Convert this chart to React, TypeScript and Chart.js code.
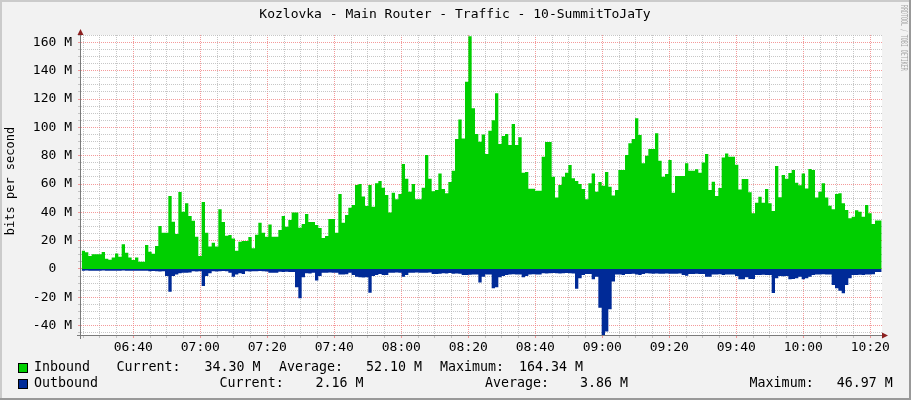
import React, { useEffect, useRef } from "react";
import { Chart, registerables } from "chart.js";
Chart.register(...registerables);

const TITLE = "Kozlovka - Main Router - Traffic - 10-SummitToJaTy";
const Y_TITLE = "bits per second";
const WATERMARK = "RRDTOOL / TOBI OETIKER";

// time axis in minutes after 06:00
const START_MINUTE = 24.59;
const STEP_MINUTES = 0.995;
const X_MIN = 24.39;
const X_MAX = 263.49;
const Y_MIN = -46.6;
const Y_MAX = 165.2;

// Mbit/s
const inbound = [
  13.4, 12.9, 11.8, 9.2, 10.4, 10.4, 10.4, 12, 7.3, 6.6,
  8.2, 11, 8.7, 17.4, 11.5, 8.2, 6.4, 8.2, 5.2, 5.2,
  17, 12.2, 10.8, 16.2, 30.4, 25.6, 25.6, 51.5, 33.4, 24.7,
  54.4, 40.5, 46.4, 37.4, 34.1, 22.8, 9.2, 47.3, 25.6, 15.8,
  18.6, 15.8, 42.1, 33.2, 23.5, 24, 21.6, 12.9, 19.3, 19.8,
  19.8, 22.6, 14.6, 24.2, 32.7, 25.6, 22.8, 31.5, 22.8, 22.8,
  27.5,
  37.4, 29.9, 34.6, 39.8, 39.8, 29.2, 31.8, 38.8, 33.2, 33.2,
  31.1, 28.9, 21.9, 23.3, 35.3, 35.3, 25.6, 52.9, 32.7, 38.1,
  43.3, 45.2, 59.3, 60, 51.1, 44.5, 59.3, 44, 60.5, 62.1,
  57.4, 52.2, 39.8, 53.9, 49.2, 52.9, 74.1, 63.8, 54.6, 60,
  49.2, 49.2, 57.4, 80.5, 63.8, 54.8, 55.8, 67.5, 56.5, 53.4,
  61.4, 69.4, 91.8, 105.6, 92.2, 132.2, 164.34, 113.4, 95.3, 89.9,
  95, 81.2, 97.6, 105, 124, 88.2, 93.9, 95.3, 87.5, 102.4,
  87.5, 93, 68, 68.5, 56.7, 56.7, 55.3, 55.3, 79.3, 89.6,
  89.6, 65.2, 50.4, 59.3, 65.2, 68, 73.4, 64, 62.1, 60,
  56.5, 49.2, 60.5, 67.5, 54.6, 61.4, 58.8, 68.5, 58.1, 51.8,
  55.8, 69.9, 69.9, 80.5, 88.7, 91.8, 106.4, 94.6, 74.6, 80,
  84.7, 84.7, 95.8, 76.5, 65.2, 67.1, 76.9, 53.9, 65.6, 65.6,
  65.6, 74.6, 69.4, 69.4, 70.4, 68, 75.1, 81.2, 55.8, 61.6,
  51.5, 57.2, 78.8, 81.6, 79.3, 79.3, 73.6, 56.2, 63.5, 63.5,
  54.1, 39.3, 46.8, 51, 46.8, 56.5, 46.4, 40.9, 72.7, 50.6,
  66.4, 63.8, 67.8, 69.9, 60.9, 59.1, 67.5, 56.9, 70.6, 69.9,
  50.4, 54.6, 60.5, 50.4, 44.7, 42.1, 52.9, 53.4, 46.4, 41.6,
  35.8, 36.9, 41.4, 40.5, 36.9, 45.2, 39.3, 31.8, 34.3,
];

const outbound = [
  -1.2, -1.2, -1.1, -1.2, -1.3, -1.2, -1.2, -1.1, -1.2, -1.2,
  -1.3, -1.2, -1.2, -1.1, -1.2, -1.2, -1.3, -1.2, -1.2, -1.2,
  -1.3, -1.6, -1.5, -1.6, -1.7, -1.6, -5.0, -16.0, -5.0, -3.8,
  -3.0, -2.6, -2.7, -2.5, -1.6, -1.7, -1.6, -12.0, -5.0, -3.0,
  -1.6, -1.7, -1.6, -1.5, -1.6, -2.6, -5.4, -3.8, -3.0, -3.5,
  -1.6, -1.7, -1.6, -1.6, -1.5, -1.6, -1.7, -2.6, -2.7, -2.6,
  -1.9,
  -2.1, -2.0, -2.2, -2.1, -12.9, -20.7, -5.9, -3.0, -3.1, -2.6,
  -8.2, -5.0, -2.6, -2.7, -2.5, -2.6, -2.7, -3.8, -3.9, -3.7,
  -2.6, -4.2, -5.4, -5.9, -6.0, -5.8, -16.7, -5.0, -4.2, -3.5,
  -4.2, -4.3, -2.6, -2.7, -2.5, -2.6, -5.4, -4.2, -2.6, -2.7,
  -2.5, -2.6, -2.7, -2.6, -2.5, -3.5, -3.6, -3.4, -3.0, -3.1,
  -2.9, -3.3, -3.2, -3.4, -4.2, -4.3, -4.1, -3.8, -3.9, -9.6,
  -5.4, -3.8, -3.9, -13.6, -12.9, -5.9, -5.0, -4.2, -3.8, -3.7,
  -3.8, -3.9, -5.9, -5.0, -3.8, -3.7, -3.9, -3.8, -3.0, -3.1,
  -3.0, -2.9, -3.0, -3.1, -3.0, -2.9, -3.0, -3.1, -14.0, -6.6,
  -4.2, -3.5, -3.6, -7.3, -5.4, -27.3, -46.97, -44.2, -28.5, -8.9,
  -3.8, -3.9, -4.2, -3.5, -3.6, -3.4, -3.8, -4.2, -3.5, -3.0,
  -3.1, -3.3, -3.2, -3.4, -3.3, -3.2, -3.3, -3.4, -3.3, -3.2,
  -4.2, -4.7, -3.5, -3.6, -3.4, -3.5, -3.6, -5.4, -5.4, -3.8,
  -3.9, -3.7, -4.2, -3.8, -3.9, -3.8, -5.0, -7.3, -7.3, -5.9,
  -7.1, -7.1, -4.2, -4.3, -4.1, -4.2, -4.3, -17.0, -6.6, -5.0,
  -5.1, -4.9, -7.3, -7.1, -6.6, -5.4, -7.3, -6.6, -5.4, -4.2,
  -3.8, -3.9, -3.7, -3.8, -3.9, -11.3, -13.6, -15.3, -17.2, -11.3,
  -6.6, -4.2, -4.3, -4.1, -4.2, -3.8, -3.9, -3.7, -2.16,
];

const SERIES_NAMES = ["Inbound", "Outbound"];
const SERIES_COLORS = ["#00CF00", "#002A97"];
const STAT_LABELS = ["Current:", "Average:", "Maximum:"];
const INBOUND_STATS = ["34.30 M", "52.10 M", "164.34 M"];
const OUTBOUND_STATS = ["2.16 M", "3.86 M", "46.97 M"];

const MONO = "'DejaVu Sans Mono', monospace";

function toPoints(values: number[]) {
  const pts = values.map((v, i) => ({ x: START_MINUTE + i * STEP_MINUTES, y: v }));
  // closing point so the last step has its width
  pts.push({ x: START_MINUTE + values.length * STEP_MINUTES, y: values[values.length - 1] });
  return pts;
}

function isMajor(v: number, every: number) {
  return Math.round(v) % every === 0;
}

const MINOR = "rgba(180,180,180,0.75)";
const MAJOR = "rgba(240,120,120,0.75)";

const rrdPlugin = {
  id: "rrdDecor",
  beforeDraw(chart: any) {
    const { ctx, chartArea: a, width, height } = chart;
    ctx.save();
    ctx.fillStyle = "#f2f2f2";
    ctx.fillRect(0, 0, width, height);
    ctx.fillStyle = "#cbcbcb";
    ctx.fillRect(0, 0, width, 2);
    ctx.fillRect(0, 0, 2, height);
    ctx.fillStyle = "#999999";
    ctx.fillRect(width - 2, 0, 2, height);
    ctx.fillRect(0, height - 2, width, 2);
    ctx.fillStyle = "#ffffff";
    ctx.fillRect(a.left, a.top, a.right - a.left, a.bottom - a.top);
    ctx.restore();
  },
  afterDraw(chart: any) {
    const { ctx, chartArea: a } = chart;
    ctx.save();
    // axes
    ctx.strokeStyle = "#7a7a7a";
    ctx.lineWidth = 1;
    ctx.beginPath();
    ctx.moveTo(a.left - 0.5, a.top - 1);
    ctx.lineTo(a.left - 0.5, a.bottom + 4);
    ctx.moveTo(a.left - 4, a.bottom + 0.5);
    ctx.lineTo(a.right + 1, a.bottom + 0.5);
    ctx.stroke();
    // arrows
    ctx.fillStyle = "#8c2020";
    ctx.beginPath();
    ctx.moveTo(a.left - 0.5, a.top - 6);
    ctx.lineTo(a.left - 3.5, a.top + 0);
    ctx.lineTo(a.left + 2.5, a.top + 0);
    ctx.closePath();
    ctx.fill();
    ctx.beginPath();
    ctx.moveTo(a.right + 6, a.bottom + 0.5);
    ctx.lineTo(a.right, a.bottom - 2.5);
    ctx.lineTo(a.right, a.bottom + 3.5);
    ctx.closePath();
    ctx.fill();

    // title
    ctx.fillStyle = "#000";
    ctx.font = `13px ${MONO}`;
    ctx.textAlign = "center";
    ctx.textBaseline = "middle";
    ctx.fillText(TITLE, 455, 15);

    // y title
    ctx.save();
    ctx.translate(11, 181);
    ctx.rotate(-Math.PI / 2);
    ctx.font = `12px ${MONO}`;
    ctx.fillText(Y_TITLE, 0, 0);
    ctx.restore();

    // watermark
    ctx.save();
    ctx.translate(903, 5);
    ctx.rotate(Math.PI / 2);
    ctx.scale(0.62, 1);
    ctx.font = `8px ${MONO}`;
    ctx.fillStyle = "#a8a8a8";
    ctx.textAlign = "left";
    ctx.fillText(WATERMARK, 0, 0);
    ctx.restore();

    // legend
    ctx.font = `13.3px ${MONO}`;
    ctx.textAlign = "left";
    ctx.textBaseline = "middle";
    const rows = [
      { y: 368, name: SERIES_NAMES[0], color: SERIES_COLORS[0], stats: INBOUND_STATS,
        xs: [116.5, 204.5, 279, 366, 440, 519] },
      { y: 384, name: SERIES_NAMES[1], color: SERIES_COLORS[1], stats: OUTBOUND_STATS,
        xs: [219.6, 315.5, 485, 580, 749.6, 836.7] },
    ];
    rows.forEach((r) => {
      ctx.fillStyle = r.color;
      ctx.fillRect(18, r.y - 5, 10, 10);
      ctx.strokeStyle = "#000";
      ctx.strokeRect(18.5, r.y - 4.5, 9, 9);
      ctx.fillStyle = "#000";
      ctx.fillText(r.name, 34, r.y);
      for (let i = 0; i < 3; i++) {
        ctx.fillText(STAT_LABELS[i], r.xs[i * 2], r.y);
        ctx.fillText(r.stats[i], r.xs[i * 2 + 1], r.y);
      }
    });
    ctx.restore();
  },
};

function fmtTime(m: number) {
  const h = 6 + Math.floor(m / 60);
  const mm = m % 60;
  return `${String(h).padStart(2, "0")}:${String(mm).padStart(2, "0")}`;
}

export default function App() {
  const ref = useRef<HTMLCanvasElement | null>(null);
  useEffect(() => {
    if (!ref.current) return;
    const chart = new Chart(ref.current, {
      type: "line",
      data: {
        datasets: [
          {
            label: SERIES_NAMES[0],
            data: toPoints(inbound),
            backgroundColor: SERIES_COLORS[0],
            borderColor: "rgba(0,0,0,0)",
            borderWidth: 0,
            pointRadius: 0,
            stepped: "after",
            fill: "origin",
          },
          {
            label: SERIES_NAMES[1],
            data: toPoints(outbound),
            backgroundColor: SERIES_COLORS[1],
            borderColor: "rgba(0,0,0,0)",
            borderWidth: 0,
            pointRadius: 0,
            stepped: "after",
            fill: "origin",
          },
        ],
      },
      options: {
        responsive: false,
        animation: false,
        events: [],
        layout: { padding: { top: 35, right: 29, left: 0, bottom: 0 } },
        plugins: { legend: { display: false }, tooltip: { enabled: false }, title: { display: false } },
        scales: {
          x: {
            type: "linear",
            min: X_MIN,
            max: X_MAX,
            afterFit: (s: any) => { s.height = 65; },
            grid: {
              color: (c: any) => (isMajor(c.tick.value, 20) ? MAJOR : MINOR),
              tickColor: (c: any) => (isMajor(c.tick.value, 20) ? MAJOR : MINOR),
              tickLength: 3,
              lineWidth: 1,
            },
            border: { display: false, dash: [1, 1] },
            ticks: {
              stepSize: 5,
              autoSkip: false,
              includeBounds: false,
              maxRotation: 0,
              padding: 2,
              color: "#000",
              font: { family: MONO, size: 13 },
              callback: (v: any) => {
                const m = Math.round(Number(v));
                return m % 20 === 0 ? fmtTime(m) : "";
              },
            },
          },
          y: {
            type: "linear",
            min: Y_MIN,
            max: Y_MAX,
            afterFit: (s: any) => { s.width = 81; },
            grid: {
              color: (c: any) => (isMajor(c.tick.value, 20) ? MAJOR : MINOR),
              tickColor: (c: any) => (isMajor(c.tick.value, 20) ? MAJOR : MINOR),
              tickLength: 3,
              lineWidth: 1,
            },
            border: { display: false, dash: [1, 1] },
            ticks: {
              stepSize: 5,
              autoSkip: false,
              includeBounds: false,
              padding: 6,
              color: "#000",
              font: { family: MONO, size: 13 },
              callback: (v: any) => {
                const r = Math.round(Number(v));
                if (r % 20 !== 0) return "";
                return r === 0 ? "0  " : `${r} M`;
              },
            },
          },
        },
      },
      plugins: [rrdPlugin],
    } as any);
    return () => chart.destroy();
  }, []);
  return (
    <div style={{ position: "fixed", left: 0, top: 0, width: 911, height: 400 }}>
      <canvas ref={ref} width={911} height={400} style={{ display: "block" }} />
    </div>
  );
}
